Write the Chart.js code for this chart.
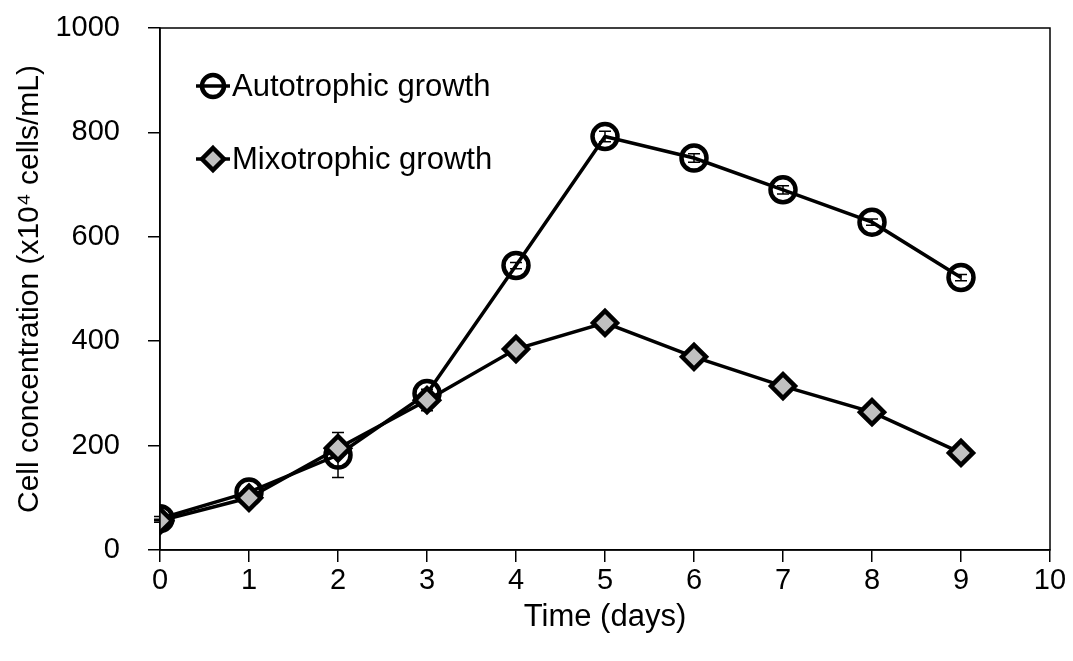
<!DOCTYPE html>
<html>
<head>
<meta charset="utf-8">
<script src="https://cdn.jsdelivr.net/npm/chart.js@4"></script>
<style>
  html, body { margin: 0; padding: 0; background: #fff; }
  #wrap { width: 1073px; height: 661px; }
</style>
</head>
<body>
<div id="wrap"><canvas id="chart"></canvas></div>
<script>
// Data
const days = [0, 1, 2, 3, 4, 5, 6, 7, 8, 9];
const autotrophic = [60, 111, 182, 300, 545, 792, 751, 690, 628, 522];
const autotrophicErr = [4, 6, 43, 8, 6, 10, 8, 8, 6, 6];
const mixotrophic = [56, 100, 195, 287, 385, 435, 370, 314, 264, 186];
const mixotrophicErr = [3, 5, 8, 20, 8, 12, 6, 5, 5, 4];
const xTicks = [0, 1, 2, 3, 4, 5, 6, 7, 8, 9, 10];
const yTicks = [0, 200, 400, 600, 800, 1000];

const FONT = 'Liberation Sans, Arial, sans-serif';

function toPoints(xs, ys) {
  return xs.map((x, i) => ({ x, y: ys[i] }));
}

// Box round the plot area
const boxPlugin = {
  id: 'box',
  afterDraw(chart) {
    const { ctx, chartArea: a } = chart;
    ctx.save();
    ctx.strokeStyle = '#000';
    ctx.lineWidth = 1.5;
    ctx.strokeRect(a.left, a.top, a.right - a.left, a.bottom - a.top);
    ctx.restore();
  }
};

// Error bars, drawn under the markers
const errorBarPlugin = {
  id: 'errorBars',
  beforeDatasetsDraw(chart) {
    const { ctx, scales } = chart;
    ctx.save();
    ctx.strokeStyle = '#000';
    ctx.lineWidth = 1.5;
    chart.data.datasets.forEach(ds => {
      if (!ds.errors) return;
      ds.data.forEach((p, i) => {
        const e = ds.errors[i];
        const x = scales.x.getPixelForValue(p.x);
        const yTop = scales.y.getPixelForValue(p.y + e);
        const yBot = scales.y.getPixelForValue(p.y - e);
        ctx.beginPath();
        ctx.moveTo(x, yTop); ctx.lineTo(x, yBot);
        ctx.moveTo(x - 6, yTop); ctx.lineTo(x + 6, yTop);
        ctx.moveTo(x - 6, yBot); ctx.lineTo(x + 6, yBot);
        ctx.stroke();
      });
    });
    ctx.restore();
  }
};

// Legend inside the plot
const legendPlugin = {
  id: 'innerLegend',
  afterDraw(chart) {
    const { ctx, chartArea: a } = chart;
    const items = [
      { ds: chart.data.datasets[0], y: a.top + 58 },
      { ds: chart.data.datasets[1], y: a.top + 131 }
    ];
    ctx.save();
    items.forEach(it => {
      const cx = a.left + 53;
      ctx.strokeStyle = '#000';
      ctx.lineWidth = 3.5;
      ctx.beginPath();
      ctx.moveTo(cx - 17, it.y); ctx.lineTo(cx + 17, it.y);
      ctx.stroke();
      ctx.lineWidth = 4.5;
      ctx.beginPath();
      if (it.ds.pointStyle === 'circle') {
        ctx.arc(cx, it.y, 11, 0, Math.PI * 2);
        ctx.stroke();
      } else {
        ctx.moveTo(cx, it.y - 11); ctx.lineTo(cx + 11, it.y);
        ctx.lineTo(cx, it.y + 11); ctx.lineTo(cx - 11, it.y);
        ctx.closePath();
        ctx.fillStyle = '#c0c0c0';
        ctx.fill();
        ctx.stroke();
      }
      ctx.fillStyle = '#000';
      ctx.font = '31px ' + FONT;
      ctx.textBaseline = 'middle';
      ctx.fillText(it.ds.label, cx + 19, it.y + 1);
    });
    ctx.restore();
  }
};

new Chart(document.getElementById('chart'), {
  type: 'line',
  data: {
    datasets: [
      {
        label: 'Autotrophic growth',
        data: toPoints(days, autotrophic),
        errors: autotrophicErr,
        borderColor: '#000',
        borderWidth: 3.5,
        pointStyle: 'circle',
        pointRadius: 12.5,
        pointBorderWidth: 4.5,
        pointBorderColor: '#000',
        pointBackgroundColor: 'rgba(0,0,0,0)',
        order: 1
      },
      {
        label: 'Mixotrophic growth',
        data: toPoints(days, mixotrophic),
        errors: mixotrophicErr,
        borderColor: '#000',
        borderWidth: 3.5,
        pointStyle: 'rectRot',
        pointRadius: 12,
        pointBorderWidth: 4.5,
        pointBorderColor: '#000',
        pointBackgroundColor: '#c0c0c0',
        order: 0
      }
    ]
  },
  options: {
    responsive: true,
    maintainAspectRatio: false,
    animation: false,
    layout: { padding: { top: 28, right: 23, left: 0, bottom: 0 } },
    plugins: {
      legend: { display: false },
      tooltip: { enabled: false }
    },
    scales: {
      x: {
        type: 'linear',
        min: 0,
        max: 10,
        afterBuildTicks: s => { s.ticks = xTicks.map(v => ({ value: v })); },
        afterFit: s => { s.height = 111; s.paddingLeft = 0; s.paddingRight = 0; },
        grid: { drawOnChartArea: false, color: '#000', tickLength: 12, lineWidth: 1.5 },
        border: { color: '#000', width: 1.5 },
        ticks: { color: '#000', font: { family: FONT, size: 29 }, padding: 2, maxRotation: 0 },
        title: { display: true, text: 'Time (days)', color: '#000', font: { family: FONT, size: 31 }, padding: { top: 0, bottom: 25 } }
      },
      y: {
        min: 0,
        max: 1000,
        afterBuildTicks: s => { s.ticks = yTicks.map(v => ({ value: v })); },
        afterFit: s => { s.width = 160; s.paddingTop = 0; s.paddingBottom = 0; },
        grid: { drawOnChartArea: false, color: '#000', tickLength: 12, lineWidth: 1.5 },
        border: { color: '#000', width: 1.5 },
        ticks: { color: '#000', font: { family: FONT, size: 29 }, padding: 28, callback: v => String(v) },
        title: { display: true, text: 'Cell concentration (x10\u2074 cells/mL)', color: '#000', font: { family: FONT, size: 30 }, padding: { top: 12, bottom: 0 } }
      }
    }
  },
  plugins: [boxPlugin, errorBarPlugin, legendPlugin]
});
</script>
</body>
</html>
